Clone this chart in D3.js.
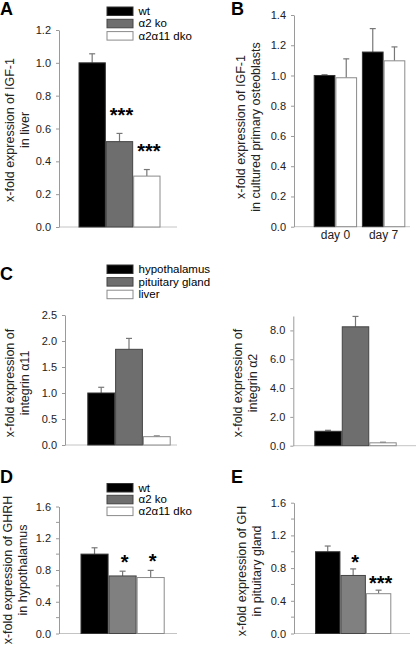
<!DOCTYPE html>
<html><head><meta charset="utf-8">
<script src="https://cdn.jsdelivr.net/npm/d3@7/dist/d3.min.js"></script>
<style>
html,body{margin:0;padding:0;background:#fff;}
svg{display:block;font-family:"Liberation Sans",Arial,sans-serif;}
</style></head>
<body>
<svg id="chart" width="416" height="649"></svg>
<script>
// ---------- data ----------
const genotypes = ["wt", "α2 ko", "α2α11 dko"];
const igfLiver = [1.0, 0.52, 0.31];
const igfLiverErr = [0.055, 0.05, 0.04];
const igfLiverSig = ["", "***", "***"];

const days = ["day 0", "day 7"];
const osteoGroups = ["wt", "α2α11 dko"];
const igfOsteoWt = [1.0, 1.155];
const igfOsteoWtErr = [0.005, 0.155];
const igfOsteoDko = [0.985, 1.097];
const igfOsteoDkoErr = [0.125, 0.092];

const tissues = ["hypothalamus", "pituitary gland", "liver"];
const itga11 = [1.0, 1.84, 0.16];
const itga11Err = [0.11, 0.21, 0.015];
const itga2 = [1.0, 8.25, 0.2];
const itga2Err = [0.07, 0.72, 0.04];

const ghrh = [1.0, 0.725, 0.705];
const ghrhErr = [0.08, 0.06, 0.09];
const ghrhSig = ["", "*", "*"];
const gh = [1.0, 0.71, 0.487];
const ghErr = [0.07, 0.08, 0.043];
const ghSig = ["", "*", "***"];

const ticksA = [0, 0.2, 0.4, 0.6, 0.8, 1.0, 1.2];
const ticksB = [0, 0.2, 0.4, 0.6, 0.8, 1.0, 1.2, 1.4];
const ticksC1 = [0, 0.5, 1.0, 1.5, 2.0, 2.5];
const ticksC2 = [0, 2, 4, 6, 8];
const ticksDE = [0, 0.4, 0.8, 1.2, 1.6];
const minorDE = [0.2, 0.6, 1.0, 1.4];

// ---------- style ----------
const svg = d3.select("#chart");
const AX = "#9a9a9a", TXT = "#222";
const fillsDark = ["#000000", "#6e6e6e", "#ffffff"];
const fillsLight = ["#000000", "#808080", "#ffffff"];
const strokes = ["#333333", "#444444", "#8a8a8a"];

function yAxis(g, y, x0, tickVals, minor) {
  const ax = g.append("g").attr("transform", `translate(${x0},0)`)
    .call(d3.axisLeft(y).tickValues(tickVals).tickSize(3).tickSizeOuter(0).tickPadding(5)
      .tickFormat(d3.format(".1f")));
  ax.select(".domain").attr("stroke", AX);
  ax.selectAll(".tick line").attr("stroke", AX);
  ax.selectAll(".tick text").attr("fill", TXT).style("font-size", "11px")
    .style("font-family", "'Liberation Sans',Arial,sans-serif");
  if (minor) {
    ax.selectAll(".mtick").data(minor).enter().append("line")
      .attr("x1", -3).attr("x2", 0).attr("y1", d => y(d)).attr("y2", d => y(d)).attr("stroke", AX);
  }
}

function baseline(g, y, x0, x1) {
  g.append("line").attr("x1", x0).attr("x2", x1).attr("y1", y(0)).attr("y2", y(0))
    .attr("stroke", "#c4c4c4").attr("stroke-width", 1);
}

function bars(g, x, y, cats, vals, errs, fills, sig, starOff) {
  const data = cats.map((c, i) => ({c, v: vals[i], e: errs[i], i, s: sig ? sig[i] : ""}));
  data.forEach(d => {
    const cx = x(d.c) + x.bandwidth() / 2;
    g.append("line").attr("x1", cx).attr("x2", cx).attr("y1", y(d.v)).attr("y2", y(d.v + d.e))
      .attr("stroke", "#777").attr("stroke-width", 1.2);
    g.append("line").attr("x1", cx - 3).attr("x2", cx + 3).attr("y1", y(d.v + d.e)).attr("y2", y(d.v + d.e))
      .attr("stroke", "#777").attr("stroke-width", 1.2);
  });
  g.selectAll(null).data(data).enter().append("rect")
    .attr("x", d => x(d.c) + 0.5).attr("width", x.bandwidth() - 1)
    .attr("y", d => y(d.v)).attr("height", d => y(0) - y(d.v))
    .attr("fill", d => fills[d.i]).attr("stroke", d => strokes[d.i]).attr("stroke-width", 1);
  data.filter(d => d.s).forEach(d => {
    g.append("text").attr("x", x(d.c) + x.bandwidth() / 2 + 2).attr("y", y(d.v + d.e) + (starOff || 0))
      .attr("text-anchor", "middle").style("font-size", "20px").style("font-weight", "bold")
      .attr("fill", "#000").text(d.s);
  });
}

function title(g, lines, cx, cy) {
  lines.forEach((t, i) => {
    g.append("text").attr("transform", `translate(${cx + i * 15},${cy}) rotate(-90)`)
      .attr("text-anchor", "middle").style("font-size", "12.5px").attr("fill", TXT).text(t);
  });
}

function letter(g, t, x, y) {
  g.append("text").attr("x", x).attr("y", y).style("font-size", "18px").style("font-weight", "bold")
    .attr("fill", "#000").text(t);
}

function legend(g, labels, fills, x, y, step) {
  labels.forEach((l, i) => {
    g.append("rect").attr("x", x + 0.5).attr("y", y + i * step + 0.5).attr("width", 26).attr("height", 8.5)
      .attr("fill", fills[i]).attr("stroke", strokes[i]);
    g.append("text").attr("x", x + 32).attr("y", y + i * step + 8.5).style("font-size", "11.5px")
      .attr("fill", "#000").text(l);
  });
}

// ---------- Panel A ----------
{
  const g = svg.append("g");
  const y = d3.scaleLinear().domain([0, 1.2]).range([227, 30]);
  const x = d3.scaleBand().domain(genotypes).range([78.5, 160.5]);
  baseline(g, y, 59, 177);
  bars(g, x, y, genotypes, igfLiver, igfLiverErr, fillsDark, igfLiverSig, -11.5);
  yAxis(g, y, 59, ticksA);
  title(g, ["x-fold expression of IGF-1", "in liver"], 14, 130);
  letter(g, "A", 0, 15);
  legend(g, genotypes, fillsDark, 106.5, 6.5, 12.3);
}

// ---------- Panel B ----------
{
  const g = svg.append("g");
  const y = d3.scaleLinear().domain([0, 1.4]).range([226.7, 15]);
  const x0 = d3.scaleBand().domain(days).range([313.7, 405.3]).paddingInner(0.1);
  const x1 = d3.scaleBand().domain(osteoGroups).range([0, x0.bandwidth()]);
  baseline(g, y, 294, 410);
  days.forEach((d, i) => {
    const gg = g.append("g").attr("transform", `translate(${x0(d)},0)`);
    bars(gg, x1, y, osteoGroups, [igfOsteoWt[i], igfOsteoDko[i]], [igfOsteoWtErr[i], igfOsteoDkoErr[i]],
      [fillsDark[0], fillsDark[2]]);
    gg.selectAll("rect").attr("stroke", (dd, j) => j === 0 ? strokes[0] : strokes[2]);
  });
  g.selectAll(null).data(days).enter().append("text")
    .attr("x", d => x0(d) + x0.bandwidth() / 2).attr("y", 239).attr("text-anchor", "middle")
    .style("font-size", "12px").attr("fill", TXT).text(d => d);
  yAxis(g, y, 294, ticksB);
  title(g, ["x-fold expression of IGF-1", "in cultured primary osteoblasts"], 245, 127);
  letter(g, "B", 231, 15);
}

// ---------- Panel C ----------
{
  const g = svg.append("g");
  const y = d3.scaleLinear().domain([0, 2.5]).range([445, 315]);
  const x = d3.scaleBand().domain(tissues).range([87.3, 170.7]);
  baseline(g, y, 65, 177);
  bars(g, x, y, tissues, itga11, itga11Err, fillsDark);
  yAxis(g, y, 65, ticksC1);
  title(g, ["x-fold expression of", "integrin α11"], 14, 383);
  letter(g, "C", 0, 280);
  legend(g, tissues, fillsDark, 106.5, 264.5, 12.6);

  const g2 = svg.append("g");
  const y2 = d3.scaleLinear().domain([0, 9]).range([445.7, 316]);
  const x2 = d3.scaleBand().domain(tissues).range([314.3, 396.7]);
  baseline(g2, y2, 293.3, 416);
  bars(g2, x2, y2, tissues, itga2, itga2Err, fillsDark);
  yAxis(g2, y2, 293.3, ticksC2);
  title(g2, ["x-fold expression of", "integrin α2"], 242, 383);
}

// ---------- Panel D ----------
{
  const g = svg.append("g");
  const y = d3.scaleLinear().domain([0, 1.6]).range([633.5, 506.5]);
  const x = d3.scaleBand().domain(genotypes).range([80.5, 164.7]);
  baseline(g, y, 59, 177);
  bars(g, x, y, genotypes, ghrh, ghrhErr, fillsLight, ghrhSig, -2);
  yAxis(g, y, 59, ticksDE, minorDE);
  title(g, ["x-fold expression of GHRH", "in hypothalamus"], 12, 570);
  letter(g, "D", 0, 483);
  legend(g, genotypes, fillsDark, 106.5, 483, 11.8);
}

// ---------- Panel E ----------
{
  const g = svg.append("g");
  const y = d3.scaleLinear().domain([0, 1.6]).range([633.5, 502.7]);
  const x = d3.scaleBand().domain(genotypes).range([315, 391.3]);
  baseline(g, y, 294, 410);
  bars(g, x, y, genotypes, gh, ghErr, fillsLight, ghSig, 0);
  yAxis(g, y, 294, ticksDE, minorDE);
  title(g, ["x-fold expression of GH", "in pituitary gland"], 246, 571);
  letter(g, "E", 231, 483);
}
</script>
</body></html>
